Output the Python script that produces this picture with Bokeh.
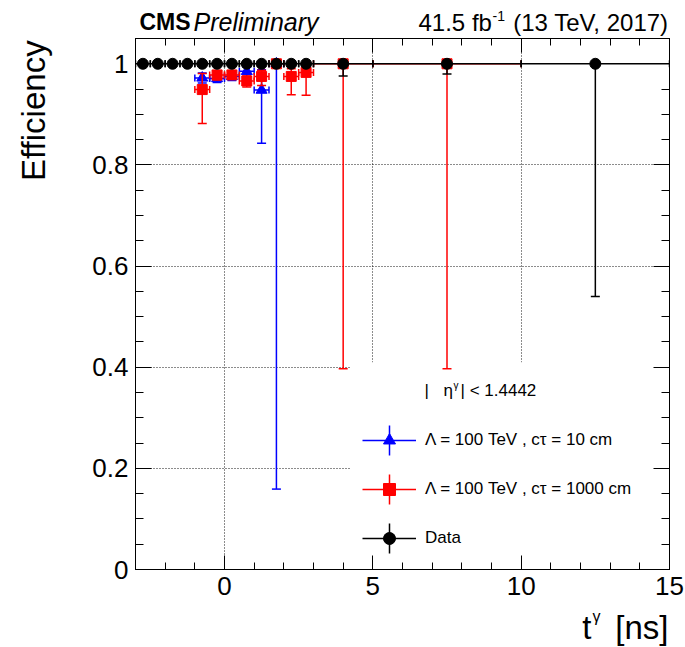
import numpy as np
from bokeh.plotting import figure
from bokeh.layouts import column, row
from bokeh.models import (ColumnDataSource, FixedTicker, LinearAxis, Range1d, Label,
                          BoxAnnotation, Legend, LegendItem, Arrow)
from bokeh.core.properties import value
from bokeh.embed import file_html
from bokeh.resources import INLINE

# ---------------- data ----------------
data_t    = [-2.75, -2.25, -1.75, -1.25, -0.75, -0.25, 0.25, 0.75, 1.25, 1.75, 2.25, 2.75, 4.0, 7.5, 12.5]
data_terr = [0.25] * 12 + [1.0, 2.5, 2.5]
data_eff  = [1.0] * 15
data_elo  = [0.0] * 12 + [0.024, 0.020, 0.460]
data_ehi  = [0.0] * 15

sig10_t    = [-0.75, -0.25, 0.25, 0.75, 1.25, 1.75]
sig10_terr = [0.25] * 6
sig10_eff  = [0.972, 0.971, 0.975, 0.985, 0.948, 1.0]
sig10_elo  = [0.010, 0.008, 0.008, 0.010, 0.105, 0.841]
sig10_ehi  = [0.010, 0.008, 0.008, 0.008, 0.040, 0.0]

sig1000_t    = [-0.75, -0.25, 0.25, 0.75, 1.25, 1.75, 2.25, 2.75, 4.0, 7.5]
sig1000_terr = [0.25] * 8 + [1.0, 2.5]
sig1000_eff  = [0.949, 0.978, 0.978, 0.966, 0.975, 1.0, 0.975, 0.983, 1.0, 1.0]
sig1000_elo  = [0.067, 0.010, 0.008, 0.012, 0.018, 0.0, 0.036, 0.045, 0.603, 0.603]
sig1000_ehi  = [0.032, 0.008, 0.008, 0.010, 0.012, 0.0, 0.015, 0.012, 0.0, 0.0]

x_major = [0, 5, 10, 15]
x_minor = list(range(-3, 16))
y_major = [0, 0.2, 0.4, 0.6, 0.8, 1.0]
y_major_labels = ["0", "0.2", "0.4", "0.6", "0.8", "1"]
y_minor = [round(0.05 * i, 2) for i in range(0, 22)]

label_10 = "Λ = 100 TeV , cτ = 10 cm"
label_1000 = "Λ = 100 TeV , cτ = 1000 cm"
label_data = "Data"

FONT = "Liberation Sans"
MID = 0.35   # distance (in em) from text middle to alphabetic baseline

# page geometry (canvas px)
W, H = 685, 647
HEAD_H = 38           # header strip
LEFT_W = 60           # strip holding the y title
FL, FR, FT, FB = 135, 669, 38, 569   # frame
MAIN_BOTTOM = 607     # bottom of main figure
FOOT_H = H - MAIN_BOTTOM


def blank(w, h):
    f = figure(width=w, height=h, x_range=Range1d(0, w), y_range=Range1d(0, h),
               output_backend="svg", toolbar_location=None, min_border=0,
               x_axis_location=None, y_axis_location=None, outline_line_color=None)
    f.grid.visible = False
    f.title.visible = False
    return f


# ---------------- main figure ----------------
p = figure(width=W - LEFT_W, height=MAIN_BOTTOM - HEAD_H, x_range=Range1d(-3, 15), y_range=Range1d(0, 1.05),
           output_backend="svg", toolbar_location=None,
           min_border_left=FL - LEFT_W, min_border_right=W - FR, min_border_top=0,
           min_border_bottom=MAIN_BOTTOM - FB)
p.title.visible = False
p.background_fill_color = "white"
p.border_fill_color = "white"
p.outline_line_color = "black"
p.outline_line_width = 1


def style_axis(ax, ticks, minor, maj_len, min_len):
    ax.ticker = FixedTicker(ticks=ticks, minor_ticks=minor)
    ax.major_tick_in = maj_len
    ax.major_tick_out = 0
    ax.minor_tick_in = min_len
    ax.minor_tick_out = 0
    ax.axis_line_color = "black"
    ax.major_tick_line_color = "black"
    ax.minor_tick_line_color = "black"
    ax.major_label_text_font = FONT
    ax.major_label_text_color = "black"
    ax.major_label_text_font_size = "26px"
    ax.major_label_standoff = 7


style_axis(p.xaxis[0], x_major, x_minor, 14, 7)
style_axis(p.yaxis[0], y_major, y_minor, 16, 8)
p.yaxis[0].major_label_overrides = {v: s for v, s in zip(y_major, y_major_labels)}


def tick_only_axis(ticks, length):
    # axis without labels: ticks given as minor ticks only
    ax = LinearAxis(ticker=FixedTicker(ticks=[], minor_ticks=ticks))
    ax.minor_tick_in = length
    ax.minor_tick_out = 0
    ax.major_tick_in = 0
    ax.major_tick_out = 0
    ax.minor_tick_line_color = "black"
    ax.axis_line_color = "black"
    ax.major_label_standoff = 0
    return ax


p.add_layout(tick_only_axis(x_minor, 7), "above")
p.add_layout(tick_only_axis(x_major, 14), "above")
p.add_layout(tick_only_axis(y_minor, 8), "right")
p.add_layout(tick_only_axis(y_major, 16), "right")

for g, t in ((p.xgrid[0], [0, 5, 10]), (p.ygrid[0], [0.2, 0.4, 0.6, 0.8, 1.0])):
    g.ticker = FixedTicker(ticks=t)
    g.grid_line_color = "black"
    g.grid_line_alpha = 0.9
    g.grid_line_dash = "1 2"
    g.grid_line_width = 1

# white backdrop behind legend (hides grid lines there)
p.add_layout(BoxAnnotation(left=4.25, right=15, bottom=0, top=0.41, fill_color="white",
                           fill_alpha=1, line_alpha=0, level="underlay"))


def draw_series(t, terr, eff, elo, ehi, color, marker, size):
    t, terr, eff, elo, ehi = map(np.asarray, (t, terr, eff, elo, ehi))
    src = ColumnDataSource(dict(x=t, x0=t - terr, x1=t + terr, y=eff, y0=eff - elo, y1=eff + ehi))
    hseg = p.segment("x0", "y", "x1", "y", source=src, line_color=color, line_width=1.5)
    p.segment("x", "y0", "x", "y1", source=src, line_color=color, line_width=1.5)
    lo = elo > 0
    hi = ehi > 0
    p.scatter(t[lo], (eff - elo)[lo], marker="dash", size=9, line_color=color, line_width=1.5)
    p.scatter(t[hi], (eff + ehi)[hi], marker="dash", size=9, line_color=color, line_width=1.5)
    p.scatter(np.concatenate([t - terr, t + terr]), np.concatenate([eff, eff]), marker="dash",
              angle=np.pi / 2, size=7, line_color=color, line_width=1.5)
    mk = p.scatter("x", "y", source=src, marker=marker, size=size, fill_color=color, line_color=color)
    return hseg, mk


b_h, b_m = draw_series(sig10_t, sig10_terr, sig10_eff, sig10_elo, sig10_ehi, "#0000ff", "triangle", 11)
r_h, r_m = draw_series(sig1000_t, sig1000_terr, sig1000_eff, sig1000_elo, sig1000_ehi, "#ff0000", "square", 10)
d_h, d_m = draw_series(data_t, data_terr, data_eff, data_elo, data_ehi, "black", "circle", 11)

# legend
leg = Legend(items=[LegendItem(label=label_10, renderers=[b_h, b_m]),
                    LegendItem(label=label_1000, renderers=[r_h, r_m]),
                    LegendItem(label=label_data, renderers=[d_h, d_m])],
             location=(362 - FL, FB - 553), glyph_width=54, glyph_height=30, label_height=30,
             spacing=19, padding=0, margin=0, label_standoff=9,
             label_text_font=FONT, label_text_font_size="17px", label_text_color="black",
             background_fill_alpha=0, border_line_alpha=0)
p.add_layout(leg)

for cy, col in ((440, "#0000ff"), (489, "#ff0000"), (538, "black")):
    p.add_layout(Arrow(end=None, x_start=389 - FL, y_start=FB - cy - 15, x_end=389 - FL, y_end=FB - cy + 15,
                       start_units="screen", end_units="screen", line_color=col, line_width=1.5))


def lab(text, cx, base, size, align="left"):
    """Label inside the main frame; base = canvas y of the text baseline."""
    p.add_layout(Label(x=cx - FL, y=FB - (base - MID * size), x_units="screen", y_units="screen",
                       text=text, text_font=FONT, text_font_size=f"{size}px", text_align=align,
                       text_baseline="middle", text_color="black"))


# eta label inside the legend area
lab("|", 424, 396, 17)
lab("η", 443, 396, 17)
lab("γ", 453, 388, 10)
lab("| < 1.4442", 460, 396, 17)


def put(f, fleft, fbottom, text, cx, base, size, align="left", style="normal", angle=0.0):
    """Text in a blank strip figure; (cx, base) = canvas x and baseline position."""
    if angle:
        x, y = cx - MID * size - fleft, fbottom - base
    else:
        x, y = cx - fleft, fbottom - (base - MID * size)
    f.text(x=[x], y=[y], text=[text], text_font=value(FONT), text_font_size=f"{size}px",
           text_font_style=style, text_align=align, text_baseline="middle", text_color="black",
           angle=angle)


# ---------------- header strip ----------------
head = blank(W, HEAD_H)
put(head, 0, HEAD_H, "CMS", 139, 30, 23, style="bold")
put(head, 0, HEAD_H, "Preliminary", 193, 30, 25, style="italic")
put(head, 0, HEAD_H, "41.5 fb", 418, 30, 24)
put(head, 0, HEAD_H, "-1", 492, 20, 14)
put(head, 0, HEAD_H, "(13 TeV, 2017)", 668, 30, 24, align="right")

# ---------------- left strip (y title) ----------------
left = blank(LEFT_W, MAIN_BOTTOM - HEAD_H)
put(left, 0, MAIN_BOTTOM, "Efficiency", 45, 40, 33, align="right", angle=np.pi / 2)

# ---------------- footer strip (x title) ----------------
foot = blank(W, FOOT_H)
put(foot, 0, H, "[ns]", 668, 639, 33, align="right")
put(foot, 0, H, "t", 591, 639, 33, align="right")
put(foot, 0, H, "γ", 592, 622, 16)

layout = column(head, row(left, p), foot, spacing=0)

open("out.html", "w").write(file_html(layout, INLINE))
